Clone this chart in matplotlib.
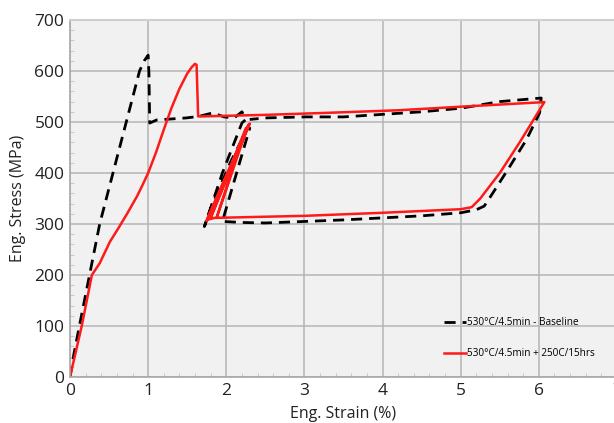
import numpy as np
import matplotlib.pyplot as plt
from matplotlib.ticker import MultipleLocator

# Baseline (black dashed): strain %, stress MPa
base_strain = [0, 0.05, 0.12, 0.25, 0.38, 0.55, 0.72, 0.89, 0.95, 1.0, 1.01, 1.02,
               1.11, 1.3, 1.49, 1.65, 1.83, 1.97, 2.1, 2.2, 2.25,
               2.2, 1.95, 1.72,
               1.8, 2.05, 2.28,
               2.3, 1.95,
               2.2, 2.5, 3.0, 3.5, 4.0, 4.5, 5.0, 5.2, 5.3,
               5.37, 5.6, 5.84, 6.01, 6.03,
               5.5, 5.0, 4.5, 4.0, 3.5, 3.0, 2.5, 2.3]
base_stress = [0, 45, 100, 200, 300, 400, 500, 600, 620, 631, 596, 498,
               504, 506, 508, 511, 518, 510, 508, 520, 505,
               498, 400, 295,
               330, 420, 490,
               488, 305,
               303, 302, 305, 308, 312, 316, 322, 328, 335,
               351, 406, 465, 518, 547,
               540, 527, 520, 515, 510, 510, 508, 505]

# Aged (red solid)
aged_strain = [0, 0.15, 0.28, 0.38, 0.51, 0.62, 0.73, 0.86, 0.93, 1.0, 1.1, 1.2, 1.3, 1.4,
               1.5, 1.56, 1.60, 1.62,
               1.64, 1.7, 2.5, 3.3, 4.2, 5.0, 6.07,
               5.75, 5.5, 5.25, 5.14, 5.0,
               4.0, 3.0, 1.85, 1.75,
               2.28, 1.88, 2.25, 1.8, 2.3, 1.75]
aged_stress = [0, 100, 200, 223, 265, 292, 320, 355, 377, 400, 440, 485, 528, 565,
               595, 608, 614, 612,
               511, 511, 514, 518, 523, 530, 539,
               459, 400, 350, 333, 329,
               322, 316, 312, 308,
               494, 314, 488, 312, 497, 306]

fig = plt.figure(figsize=(6.14, 4.23), dpi=100)
ax = fig.add_axes([70 / 614, 46 / 423, 547 / 614, 357 / 423])
ax.set_facecolor("#f1f1f1")

ax.plot(base_strain, base_stress, color="black", linestyle=(0, (4, 2.5)), linewidth=2,
        label="530°C/4.5min - Baseline")
ax.plot(aged_strain, aged_stress, color="#ff1a1a", linewidth=1.8,
        label="530°C/4.5min + 250C/15hrs")

ax.set_xlim(0, 7)
ax.set_ylim(0, 700)
ax.xaxis.set_major_locator(MultipleLocator(1))
ax.xaxis.set_minor_locator(MultipleLocator(0.2))
ax.yaxis.set_major_locator(MultipleLocator(100))
ax.yaxis.set_minor_locator(MultipleLocator(20))
ax.grid(True, which="major", color="#b4b4b4", linewidth=1.1)
ax.set_axisbelow(True)

ax.tick_params(which="major", length=0, labelsize=12.5, pad=4, labelcolor="#222222")
ax.tick_params(which="minor", direction="in", length=3, color="#c0c0c0")
for s in ["left", "bottom"]:
    ax.spines[s].set_color("#a8a8a8")
    ax.spines[s].set_linewidth(1.2)
ax.spines["top"].set_color("#cfcfcf")
ax.spines["top"].set_linewidth(1.5)
ax.spines["right"].set_visible(False)

ax.set_xlabel("Eng. Strain (%)", fontsize=11.5, color="#222222", labelpad=5)
ax.set_ylabel("Eng. Stress (MPa)", fontsize=11.5, color="#222222", labelpad=6)

leg = ax.legend(loc="lower right", bbox_to_anchor=(0.975, 0.025), frameon=False,
                fontsize=7.2, handlelength=2.2, handletextpad=0.1, labelspacing=2.0)

for t in ax.get_xticklabels() + ax.get_yticklabels() + [ax.xaxis.label, ax.yaxis.label]:
    t.set_family("Open Sans")
for t in leg.get_texts():
    t.set_family("Open Sans")

fig.savefig("out.png", dpi=100)
